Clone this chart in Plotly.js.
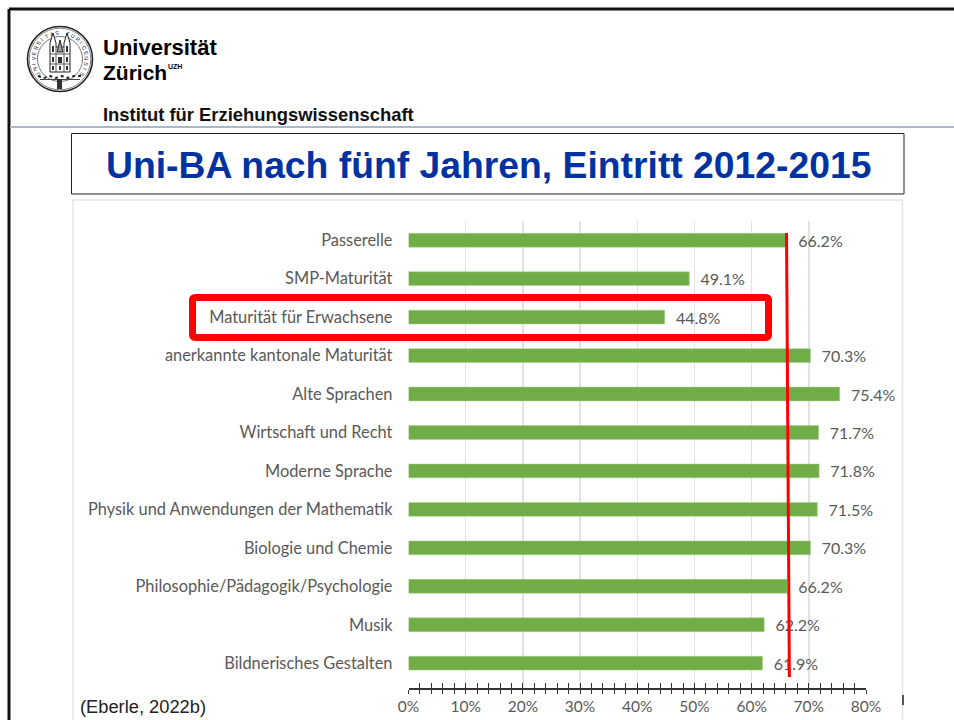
<!DOCTYPE html>
<html><head><meta charset="utf-8">
<script src="https://cdn.plot.ly/plotly-3.0.1.min.js"></script>
<style>html,body{margin:0;padding:0;background:#fff;overflow:hidden}</style>
</head><body><div id="chart" style="width:954px;height:720px"></div>
<script>
const categories = ["Passerelle","SMP-Maturität","Maturität für Erwachsene","anerkannte kantonale Maturität","Alte Sprachen","Wirtschaft und Recht","Moderne Sprache","Physik und Anwendungen der Mathematik","Biologie und Chemie","Philosophie/Pädagogik/Psychologie","Musik","Bildnerisches Gestalten"];
const values = [66.2,49.1,44.8,70.3,75.4,71.7,71.8,71.5,70.3,66.2,62.2,61.9];
const xTicks = [0,10,20,30,40,50,60,70,80];
const refLine = [66.1,66.6];
const sealText = "UNIVERSITAS TURICENSIS";
const W=954,H=720;
const px=x=>x/W, py=y=>1-y/H;
const pathP=(pts,close)=>'M'+pts.map(p=>px(p[0])+','+py(p[1])).join('L')+(close?'Z':'');
const rectS=(x0,y0,x1,y1,o)=>Object.assign({type:'rect',xref:'paper',yref:'paper',x0:px(x0),x1:px(x1),y0:py(y0),y1:py(y1),line:{width:0}},o||{});
const circ=(cx,cy,r,o)=>Object.assign({type:'circle',xref:'paper',yref:'paper',x0:px(cx-r),x1:px(cx+r),y0:py(cy-r),y1:py(cy+r)},o);
const lineS=(x0,y0,x1,y1,c,w)=>({type:'line',xref:'paper',yref:'paper',x0:px(x0),x1:px(x1),y0:py(y0),y1:py(y1),line:{color:c,width:w}});
const pathS=(pts,close,line,fill)=>({type:'path',xref:'paper',yref:'paper',path:pathP(pts,close),line,fillcolor:fill||'rgba(0,0,0,0)'});
const roundRect=(x0,y0,x1,y1,r)=>{const f=(x,y)=>px(x)+','+py(y);
 return 'M'+f(x0+r,y0)+'L'+f(x1-r,y0)+'Q'+f(x1,y0)+' '+f(x1,y0+r)+'L'+f(x1,y1-r)+'Q'+f(x1,y1)+' '+f(x1-r,y1)+'L'+f(x0+r,y1)+'Q'+f(x0,y1)+' '+f(x0,y1-r)+'L'+f(x0,y0+r)+'Q'+f(x0,y0)+' '+f(x0+r,y0)+'Z';};
const txt=(s,x,y,size,color,anchor)=>({text:s,xref:'paper',yref:'paper',x:px(x),y:py(y),showarrow:false,xanchor:anchor||'left',yanchor:'middle',borderpad:0,font:{family:'Liberation Sans',size:size,color:color||'#000'}});

const dark='#222';
const shapes=[
 lineS(9,9,954,9,'#111',3), lineS(9,9,9,720,'#111',3),
 lineS(10,127,954,127,'#a9b9c9',2),
 rectS(71.5,133.5,904,194,{line:{color:dark,width:1},fillcolor:'rgba(0,0,0,0)'}),
 rectS(73,200,902.5,725,{line:{color:'#e6e6e6',width:1.5},fillcolor:'rgba(0,0,0,0)',layer:'below'}),
 lineS(903,695,903,705,dark,1.5),
 circ(60,59,32.5,{line:{color:dark,width:1.6},fillcolor:'#fff'}),
 circ(60,59,30.8,{line:{color:'#666',width:.8}}),
 circ(60,59,22.5,{line:{color:'#555',width:.8}}),
 pathS([[50,72],[50,43],[53,33],[56,43],[56,47],[64,47],[64,43],[67,33],[70,43],[70,72]],true,{color:dark,width:1},'#fff'),
 pathS([[57,52],[60,40],[63,52]],true,{color:dark,width:1},'#999'),
 lineS(56,47,56,72,'#333',.8), lineS(64,47,64,72,'#333',.8),
 lineS(50,54,70,54,'#333',.8), lineS(50,64,70,64,'#333',.8),
 rectS(52,46,54,52,{fillcolor:'#333'}),rectS(66,46,68,52,{fillcolor:'#333'}),
 rectS(58,57,62,63,{fillcolor:'#333'}),rectS(52,57,54,62,{fillcolor:'#333'}),rectS(66,57,68,62,{fillcolor:'#333'}),
 rectS(52,66,54,70,{fillcolor:'#333'}),rectS(59,66,61,70,{fillcolor:'#333'}),rectS(66,66,68,70,{fillcolor:'#333'}),
 pathS([[38,76],[44,78],[50,76],[56,78],[62,76],[68,78],[74,76],[82,76]],false,{color:dark,width:2,dash:'dot'}),
 lineS(40,79.5,80,79.5,'#444',1.2),
 rectS(57,79,62,89,{fillcolor:'#333'}),
 {type:'path',xref:'paper',yref:'paper',path:roundRect(192.5,297.5,768.5,337.5,3),line:{color:'#ff0000',width:7},fillcolor:'rgba(0,0,0,0)'},
 {type:'line',xref:'x',yref:'paper',x0:refLine[0],x1:refLine[1],y0:py(233),y1:py(677),line:{color:'#ff0000',width:3}}
];
const annotations=[
 txt('<b>Universität</b>',102,48,22),
 txt('<b>Zürich</b>',102,73,21),
 txt('<b>UZH</b>',167,66,7),
 txt('<b>Institut für Erziehungswissenschaft</b>',102,114,18.4,'#111'),
 txt('<b>Uni-BA nach fünf Jahren, Eintritt 2012-2015</b>',488,165,37.3,'#0033a1','center'),
 txt('(Eberle, 2022b)',79,706,18.3,'#222')
];
[...sealText].forEach((ch,i,arr)=>{
 if(ch===' ')return;
 const a=(-125+250*i/(arr.length-1));
 const r=26.5, rad=a*Math.PI/180;
 annotations.push({text:ch,xref:'paper',yref:'paper',x:px(60+r*Math.sin(rad)),y:py(59-r*Math.cos(rad)),showarrow:false,xanchor:'center',yanchor:'middle',textangle:a,borderpad:0,font:{family:'Liberation Sans',size:5.5,color:'#222'}});
});

const fontC={family:'Lato',size:16.4,color:'#595959'};
const fontV={family:'Lato',size:16,color:'#595959'};
const fontT={family:'Lato',size:15.5,color:'#595959'};
const data=[{type:'bar',orientation:'h',y:categories,x:values,marker:{color:'#70ad47',line:{color:'#a9d08e',width:.5}},width:0.36,
 text:values.map(v=>'\u00a0\u00a0'+v.toFixed(1)+'%'),textposition:'outside',constraintext:'none',cliponaxis:false,textfont:fontV,hoverinfo:'x+y'},
 {type:'scatter',x:[0,80],y:[categories[0],categories[0]],xaxis:'x2',yaxis:'y',mode:'none',showlegend:false,hoverinfo:'skip'}];
const tickC='#333';
const layout={width:W,height:H,margin:{l:0,r:0,t:0,b:0},paper_bgcolor:'#fff',plot_bgcolor:'rgba(0,0,0,0)',showlegend:false,
 font:fontC,shapes,annotations,
 xaxis:{domain:[px(408.5),px(866)],range:[0,80],tickmode:'array',tickvals:xTicks,ticktext:xTicks.map(v=>v+'%'),showgrid:true,gridcolor:'#e2e2e2',gridwidth:1.5,zeroline:false,
  showline:true,linecolor:tickC,linewidth:1.5,ticks:'outside',ticklen:4,tickcolor:tickC,tickwidth:1,tickfont:fontT,ticklabelstandoff:0,
  minor:{dtick:2,tick0:0,ticks:'outside',ticklen:4,tickcolor:tickC,tickwidth:1,showgrid:false},anchor:'y'},
 xaxis2:{domain:[px(408.5),px(866)],overlaying:'x',anchor:'y',side:'bottom',range:[0,80],tick0:0,dtick:2,ticks:'inside',ticklen:5,tickcolor:tickC,tickwidth:1,showticklabels:false,showgrid:false,zeroline:false,showline:false},
 yaxis:{domain:[py(688),py(221)],type:'category',autorange:false,range:[11.645,-0.5],categoryorder:'array',categoryarray:categories,showgrid:false,zeroline:false,showline:false,ticks:'',tickfont:fontC,ticklabelstandoff:15}
};
Plotly.newPlot('chart',data,layout,{displayModeBar:false,staticPlot:true});
</script></body></html>
